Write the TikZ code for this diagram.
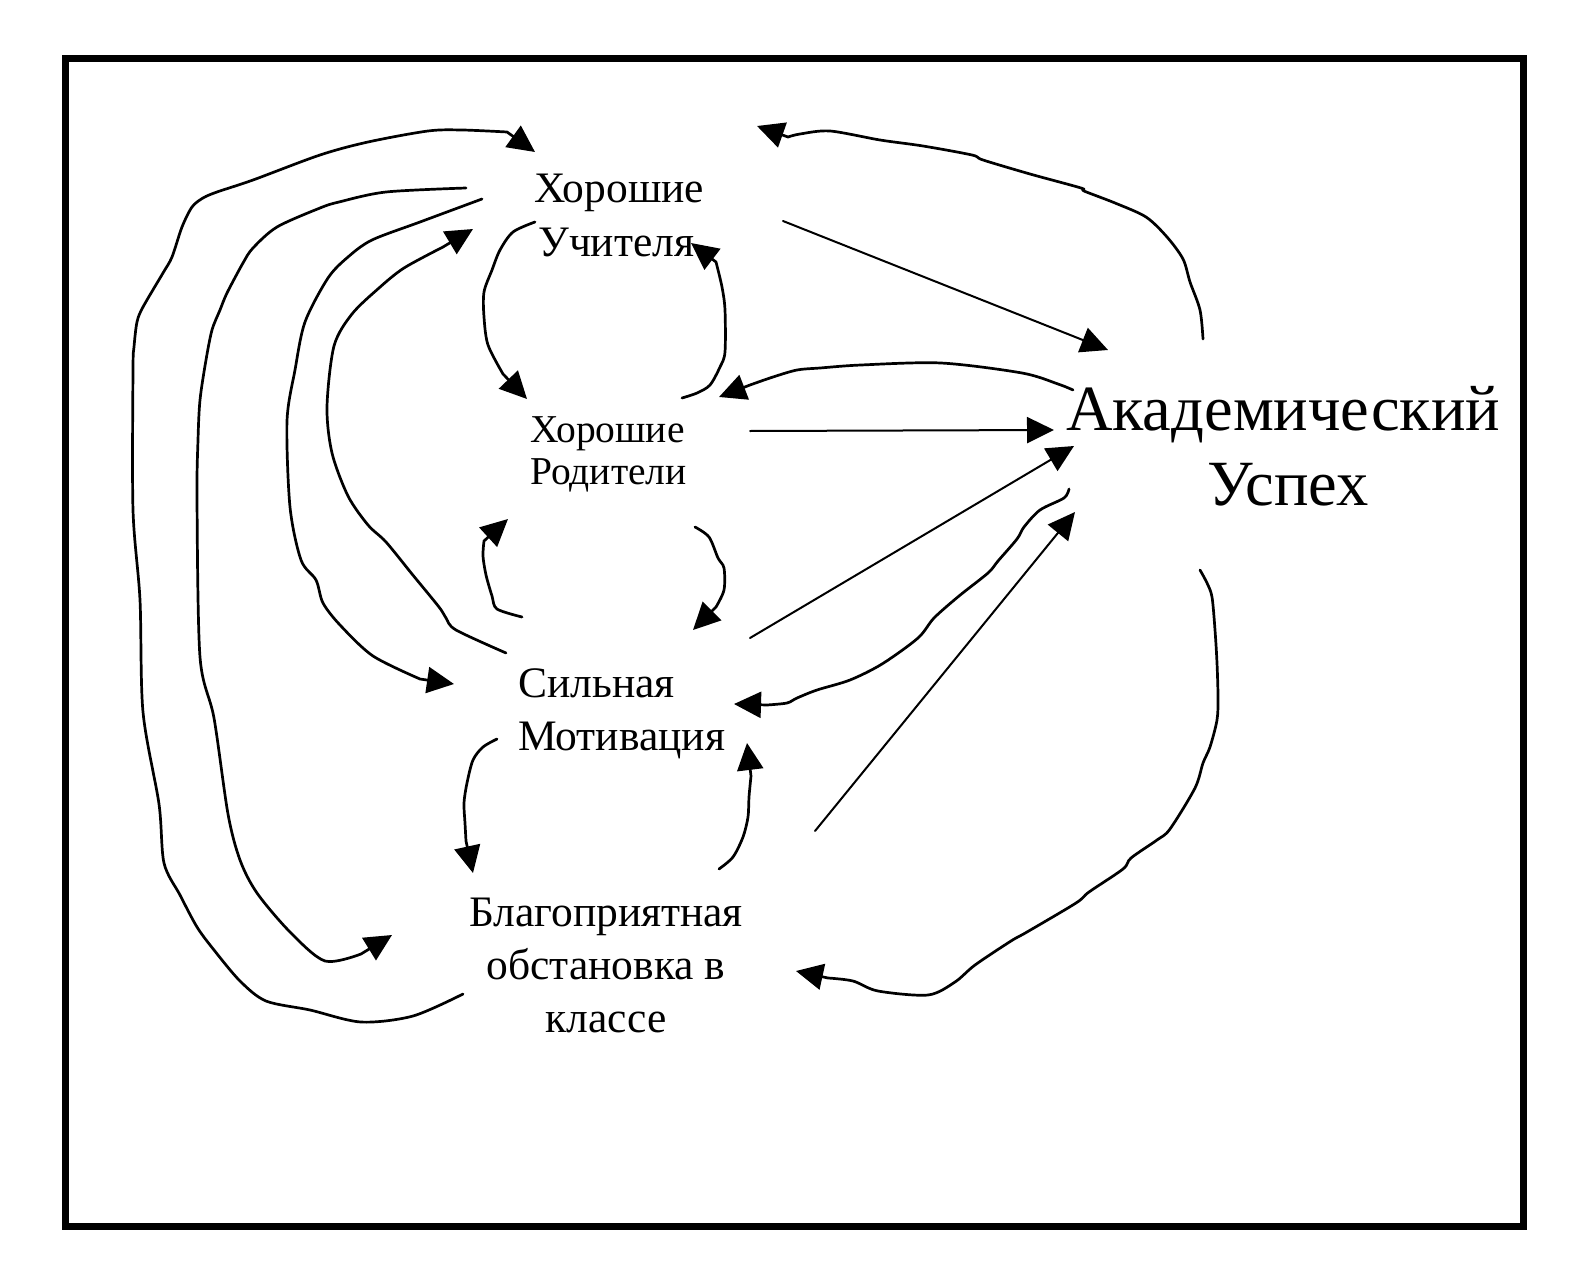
\documentclass[tikz,border=0pt]{standalone}
\usepackage{fontspec}
\setmainfont{Liberation Serif}
\usetikzlibrary{arrows.meta}
\newcommand\fontA{\fontsize{43.5}{50}\selectfont}
\newcommand\fontB{\fontsize{39.5}{46}\selectfont}
\newcommand\fontC{\fontsize{64.5}{74}\selectfont}
\begin{document}
\begin{tikzpicture}[x=1pt,y=-1pt,
  lbl/.style={inner sep=0pt, anchor=base west, font=\fontA},
  lblc/.style={inner sep=0pt, anchor=base, font=\fontA},
  curv/.style={line width=2.7pt, line join=round, line cap=round, -{Triangle[length=27pt,width=26pt]}},
  strt/.style={line width=2pt, line cap=round, -{Triangle[length=27pt,width=26pt]}},
  frame/.style={line width=7pt}]
\useasboundingbox (0,0) rectangle (1576,1268);
\draw[frame] (65.5,59) rectangle (1523,1226);
% labels
\node[lbl] (tuA) at (534,203) {Хорошие};
\node[lbl] (tuB) at (538,256) {Учителя};
\node[lbl,font=\fontB] (tpA) at (530,442) {Хорошие};
\node[lbl,font=\fontB] (tpB) at (530,484) {Родители};
\node[lbl] (smA) at (518,697) {Сильная};
\node[lbl] (smB) at (518,750) {Мотивация};
\node[lblc] (blA) at (606,926) {Благоприятная};
\node[lblc] (blB) at (606,979) {обстановка в};
\node[lblc] (blC) at (606,1032) {классе};
\node[lblc,font=\fontC] (akA) at (1283,430) {Академический};
\node[lblc,font=\fontC] (akB) at (1288,505) {Успех};
% connector end points
\coordinate (c1s) at (463,994);  \coordinate (c1e) at (535,152);
\coordinate (c2s) at (466,188);  \coordinate (c2e) at (392,935);
\coordinate (c3s) at (482,199);  \coordinate (c3e) at (454,684);
\coordinate (c4s) at (506,653);  \coordinate (c4e) at (473,229);
\coordinate (c5s) at (535,222);  \coordinate (c5e) at (527,399);
\coordinate (c6s) at (682,398);  \coordinate (c6e) at (691,243);
\coordinate (c7s) at (522,617);  \coordinate (c7e) at (508,519);
\coordinate (c8s) at (695,527);  \coordinate (c8e) at (693,630);
\coordinate (c9s) at (497,739);  \coordinate (c9e) at (473,873);
\coordinate (c10s) at (719,869); \coordinate (c10e) at (747,743);
\coordinate (c11s) at (783,221); \coordinate (c11e) at (1108,350);
\coordinate (c12s) at (1073,390);\coordinate (c12e) at (719,397);
\coordinate (c13s) at (750,431); \coordinate (c13e) at (1054,430);
\coordinate (c14s) at (750,638); \coordinate (c14e) at (1074,446);
\coordinate (c15s) at (1069,489);\coordinate (c15e) at (734,704);
\coordinate (c16s) at (815,831); \coordinate (c16e) at (1075,512);
\coordinate (c17s) at (1203,339);\coordinate (c17e) at (757,126);
\coordinate (c18s) at (1200,570);\coordinate (c18e) at (796,971);
% outer loop: Благоприятная -> Учителя
\draw[curv] plot[smooth] coordinates {(c1s) (413,1016) (361,1022) (310,1010) (266,1001) (240,981) (214,950) (197,927) (180,895) (164,863) (159,804) (143,712) (140,600) (133,510) (133,370) (134,347) (137,322) (143,307) (163,273) (172,257) (182,227) (192,207) (203,198) (217,192) (253,180) (320,155) (368,142) (428,131) (462,130) (507,132)} -- (c1e);
% second loop: Учителя -> Благоприятная
\draw[curv] plot[smooth] coordinates {(c2s) (386,192) (339,202) (320,208) (277,227) (253,248) (243,263) (227,293) (220,310) (212,330) (206,360) (200,400) (198,440) (197,500) (200,657) (214,718) (228,814) (240,860) (257,893) (290,932) (325,961) (361,954)} -- (c2e);
% Учителя -> Сильная
\draw[curv] plot[smooth] coordinates {(c3s) (420,222) (372,240) (348,257) (328,278) (305,322) (295,370) (287,421) (290,507) (301,560) (316,580) (323,603) (340,625) (373,656) (420,679)} -- (c3e);
% Сильная -> Учителя
\draw[curv] plot[smooth] coordinates {(c4s) (456,630) (446,618) (439,607) (412,574) (386,542) (368,525) (348,496) (332,453) (327,407) (334,346) (352,314) (379,288) (404,268) (443,247)} -- (c4e);
% Учителя -> Родители
\draw[curv] plot[smooth] coordinates {(c5s) (513,232) (500,250) (492,270) (484,292) (484,317) (488,345) (503,374)} -- (c5e);
% Родители -> Учителя
\draw[curv] plot[smooth] coordinates {(c6s) (697,393) (710,385) (720,367) (725,352) (725,310) (722,287) (716,262)} -- (c6e);
% Сильная -> Родители
\draw[curv] plot[smooth] coordinates {(c7s) (497,609) (492,596) (486,575) (483,556) (484,541)} -- (c7e);
% Родители -> Сильная
\draw[curv] plot[smooth] coordinates {(c8s) (709,537) (718,558) (724,568) (724,590) (716,607)} -- (c8e);
% Сильная -> Благоприятная
\draw[curv] plot[smooth] coordinates {(c9s) (483,747) (473,760) (467,783) (464,803) (465,823) (466,841)} -- (c9e);
% Благоприятная -> Сильная
\draw[curv] plot[smooth] coordinates {(c10s) (733,857) (743,837) (748,817) (749,797) (751,776)} -- (c10e);
% straight connectors to Академический Успех
\draw[strt] (c11s) -- (c11e);
\draw[strt] (c13s) -- (c13e);
\draw[strt] (c14s) -- (c14e);
\draw[strt] (c16s) -- (c16e);
% Академический -> Родители
\draw[curv] plot[smooth] coordinates {(c12s) (1058,384) (1022,373) (941,363) (861,365) (820,368) (797,370) (773,377) (750,385)} -- (c12e);
% Академический -> Сильная
\draw[curv] plot[smooth] coordinates {(c15s) (1064,498) (1040,510) (1024,527) (1017,539) (998,561) (988,573) (959,596) (934,618) (918,638) (882,664) (850,680) (817,690) (797,698) (787,703) (767,705)} -- (c15e);
% Академический -> Учителя (top)
\draw[curv] plot[smooth] coordinates {(c17s) (1200,310) (1190,282) (1183,259) (1167,237) (1146,217) (1115,203) (1084,191) (1081,188) (1030,174) (983,160) (972,155) (923,146) (880,140) (830,131) (800,134) (788,137)} -- (c17e);
% Академический -> Благоприятная
\draw[curv] plot[smooth] coordinates {(c18s) (1207,583) (1212,597) (1215,630) (1217,663) (1218,697) (1217,720) (1210,747) (1203,763) (1195,788) (1170,829) (1157,840) (1131,858) (1123,869) (1089,892) (1076,903) (1027,932) (1011,941) (975,965) (955,982) (928,995) (878,991) (853,981) (828,978)} -- (c18e);
\end{tikzpicture}
\end{document}
